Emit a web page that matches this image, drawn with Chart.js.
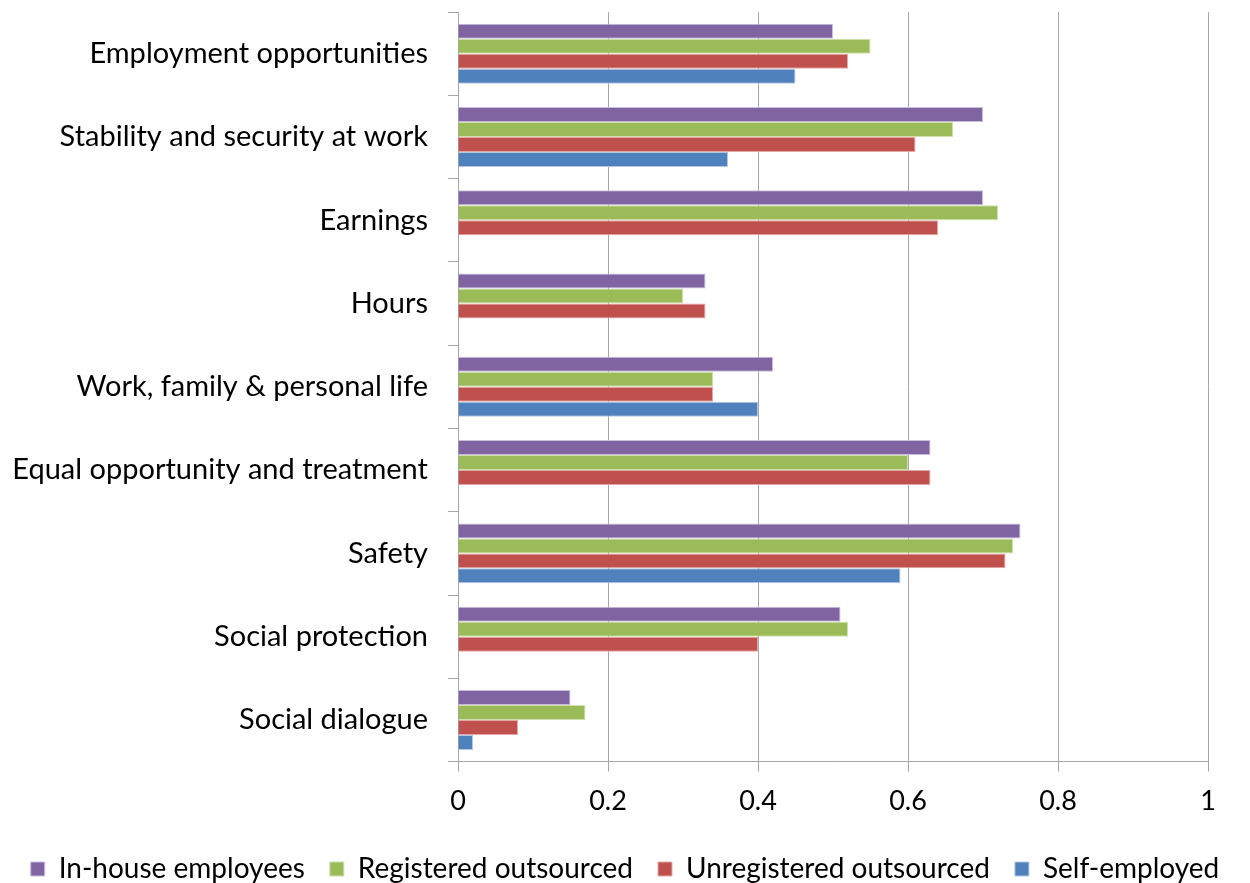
<!DOCTYPE html>
<html>
<head>
<meta charset="utf-8">
<script src="https://cdn.jsdelivr.net/npm/chart.js@4.4.1/dist/chart.umd.min.js"></script>
<style>
  html, body { margin: 0; padding: 0; background: #fff; }
  #wrap { width: 1250px; height: 883px; position: relative; }
</style>
</head>
<body>
<div id="wrap"><canvas id="chart" width="1250" height="883"></canvas></div>
<script>
// categories, top to bottom
const categories = [
  'Employment opportunities',
  'Stability and security at work',
  'Earnings',
  'Hours',
  'Work, family & personal life',
  'Equal opportunity and treatment',
  'Safety',
  'Social protection',
  'Social dialogue'
];

const inHouse      = [0.50, 0.70, 0.70, 0.33, 0.42, 0.63, 0.75, 0.51, 0.15];
const registered   = [0.55, 0.66, 0.72, 0.30, 0.34, 0.60, 0.74, 0.52, 0.17];
const unregistered = [0.52, 0.61, 0.64, 0.33, 0.34, 0.63, 0.73, 0.40, 0.08];
const selfEmployed = [0.45, 0.36, null, null, 0.40, null, 0.59, null, 0.02];

const xTickLabels = ['0', '0.2', '0.4', '0.6', '0.8', '1'];

const FONT = 'Lato, "Open Sans", sans-serif';
const gridGray = '#a6a6a6';

function ds(label, data, color, border) {
  return {
    label: label,
    data: data,
    backgroundColor: color,
    borderColor: border,
    borderWidth: 1,
    barPercentage: 1.0,
    categoryPercentage: 0.72
  };
}

const ctx = document.getElementById('chart').getContext('2d');
const chart = new Chart(ctx, {
  type: 'bar',
  data: {
    labels: categories,
    datasets: [
      ds('In-house employees', inHouse, '#8064A2', '#c9bddb'),
      ds('Registered outsourced', registered, '#9BBB59', '#cfe0ac'),
      ds('Unregistered outsourced', unregistered, '#C0504D', '#e3a9a7'),
      ds('Self-employed', selfEmployed, '#4F81BD', '#b4c8e2')
    ]
  },
  options: {
    indexAxis: 'y',
    responsive: false,
    animation: false,
    layout: { padding: { top: 12, right: 0, left: 0, bottom: -10 } },
    plugins: {
      tooltip: { enabled: false },
      legend: {
        display: true,
        position: 'bottom',
        labels: {
          font: { family: FONT, size: 28 },
          color: '#000',
          boxWidth: 14,
          boxHeight: 14,
          padding: 25
        }
      }
    },
    scales: {
      x: {
        min: 0,
        max: 1,
        afterFit: (scale) => { scale.paddingRight = 42; },
        ticks: {
          stepSize: 0.2,
          color: '#000',
          font: { family: FONT, size: 27 },
          padding: 13,
          callback: (v, i) => xTickLabels[i]
        },
        grid: { color: gridGray, lineWidth: 1, tickLength: 10 },
        border: { color: gridGray }
      },
      y: {
        afterFit: (scale) => {
          scale.width = 458;
          scale.paddingTop = 0;
          scale.paddingBottom = 0;
        },
        ticks: {
          color: '#000',
          font: { family: FONT, size: 29 },
          padding: 20
        },
        grid: { drawOnChartArea: false, offset: true, color: gridGray, tickLength: 10 },
        border: { color: gridGray }
      }
    }
  }
});
</script>
</body>
</html>
